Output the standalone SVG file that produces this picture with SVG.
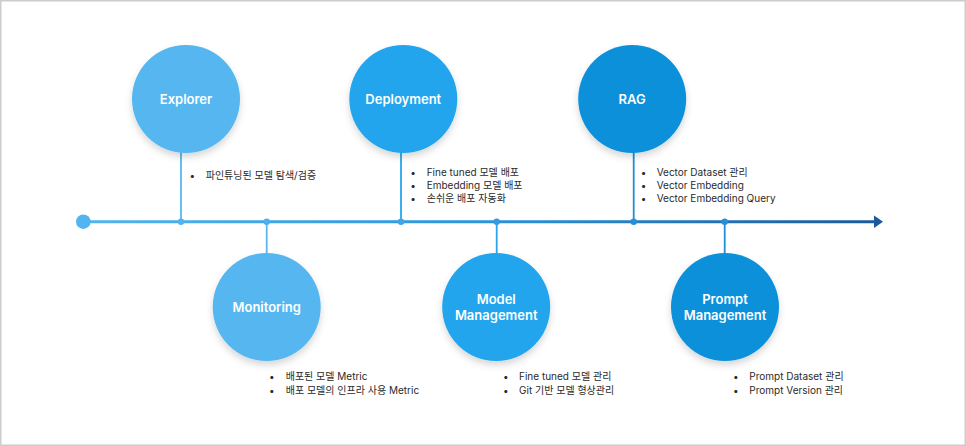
<svg xmlns="http://www.w3.org/2000/svg" width="966" height="446" viewBox="0 0 966 446">
<defs>
<linearGradient id="tl" x1="83" y1="0" x2="883" y2="0" gradientUnits="userSpaceOnUse">
<stop offset="0" stop-color="#52B4F0"/>
<stop offset="0.5" stop-color="#2B95DB"/>
<stop offset="1" stop-color="#1A5A9C"/>
</linearGradient>
<filter id="sh" x="-30%" y="-30%" width="160%" height="170%">
<feDropShadow dx="0" dy="4" stdDeviation="3.5" flood-color="#000" flood-opacity="0.16"/>
</filter>
</defs>
<style>
.t{font-family:Inter,"Noto Sans CJK KR","Noto Sans",sans-serif;font-size:13px;font-weight:600;fill:#fff;text-anchor:middle}
.b{font-family:Inter,"Noto Sans CJK KR","Noto Sans",sans-serif;font-size:10px;fill:#2a2a2a}
.c1{fill:#56B7F0}.c2{fill:#23A5EC}.c3{fill:#1190DA}
.s1{stroke:#56B7F0}.s2{stroke:#29A6EA}.s3{stroke:#1E8FD6}
.stem{stroke-width:1.8;fill:none}
</style>
<rect x="0.75" y="0.75" width="964.5" height="444.5" fill="#fff" stroke="#cccccc" stroke-width="1.5"/>
<g id="connectors">
<line x1="83" y1="221.7" x2="876" y2="221.7" stroke="url(#tl)" stroke-width="3"/>
<polygon points="874,215.5 883,221.7 874,228" fill="#1A5A9C"/>
<circle cx="83.3" cy="221.7" r="7.3" fill="#52B4F0"/>
<line class="stem s1" x1="181" y1="150" x2="181" y2="221.7"/>
<line class="stem s1" x1="266.7" y1="221.7" x2="266.7" y2="256"/>
<line class="stem s2" x1="401" y1="150" x2="401" y2="221.7"/>
<line class="stem s2" x1="496.7" y1="221.7" x2="496.7" y2="256"/>
<line class="stem s3" x1="633.7" y1="150" x2="633.7" y2="221.7"/>
<line class="stem s3" x1="724.7" y1="221.7" x2="724.7" y2="256"/>
<circle cx="181" cy="221.7" r="3.2" fill="#52B3EF"/>
<circle cx="266.7" cy="221.7" r="3.2" fill="#4EAFEC"/>
<circle cx="401" cy="221.7" r="3.2" fill="#3FA5E6"/>
<circle cx="496.7" cy="221.7" r="3.2" fill="#339BE0"/>
<circle cx="633.7" cy="221.7" r="3.2" fill="#2A8ED6"/>
<circle cx="724.7" cy="221.7" r="3.2" fill="#2A8ED6"/>
</g>
<g id="explorer">
<circle class="c1" cx="186" cy="99" r="54" filter="url(#sh)"/>
<text class="t" x="186" y="103.5">Explorer</text>
<text class="b" x="189.5" y="178.5">•</text>
<text class="b" x="205.7" y="178.5">파인튜닝된 모델 탐색/검증</text>
</g>
<g id="monitoring">
<circle class="c1" cx="266.7" cy="307" r="54" filter="url(#sh)"/>
<text class="t" x="266.7" y="311.5">Monitoring</text>
<text class="b" x="269" y="380">•</text>
<text class="b" x="285.7" y="380">배포된 모델 Metric</text>
<text class="b" x="269" y="393.5">•</text>
<text class="b" x="285.7" y="393.5">배포 모델의 인프라 사용 Metric</text>
</g>
<g id="deployment">
<circle class="c2" cx="403.3" cy="99" r="54" filter="url(#sh)"/>
<text class="t" x="403.3" y="103.5">Deployment</text>
<text class="b" x="410.3" y="176">•</text>
<text class="b" x="426.7" y="176">Fine tuned 모델 배포</text>
<text class="b" x="410.3" y="189">•</text>
<text class="b" x="426.7" y="189">Embedding 모델 배포</text>
<text class="b" x="410.3" y="202">•</text>
<text class="b" x="426.7" y="202">손쉬운 배포 자동화</text>
</g>
<g id="model-management">
<circle class="c2" cx="496.2" cy="307" r="54" filter="url(#sh)"/>
<text class="t" x="496.2" y="304">Model</text>
<text class="t" x="496.2" y="320">Management</text>
<text class="b" x="503" y="380">•</text>
<text class="b" x="519" y="380">Fine tuned 모델 관리</text>
<text class="b" x="503" y="393.5">•</text>
<text class="b" x="519" y="393.5">Git 기반 모델 형상관리</text>
</g>
<g id="rag">
<circle class="c3" cx="632.2" cy="99" r="54" filter="url(#sh)"/>
<text class="t" x="632.2" y="103.5">RAG</text>
<text class="b" x="640.7" y="176">•</text>
<text class="b" x="656.7" y="176">Vector Dataset 관리</text>
<text class="b" x="640.7" y="189">•</text>
<text class="b" x="656.7" y="189">Vector Embedding</text>
<text class="b" x="640.7" y="202">•</text>
<text class="b" x="656.7" y="202">Vector Embedding Query</text>
</g>
<g id="prompt-management">
<circle class="c3" cx="725" cy="307" r="54" filter="url(#sh)"/>
<text class="t" x="725" y="304">Prompt</text>
<text class="t" x="725" y="320">Management</text>
<text class="b" x="733" y="380">•</text>
<text class="b" x="749.3" y="380">Prompt Dataset 관리</text>
<text class="b" x="733" y="393.5">•</text>
<text class="b" x="749.3" y="393.5">Prompt Version 관리</text>
</g>
</svg>
